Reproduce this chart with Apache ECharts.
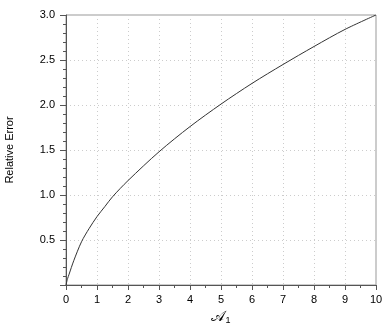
<!DOCTYPE html>
<html><head><meta charset="utf-8">
<script src="https://cdn.jsdelivr.net/npm/echarts@6/dist/echarts.min.js"></script>
<style>html,body{margin:0;padding:0;background:#fff}#c{width:390px;height:327px}</style>
</head><body><div id="c"></div>
<script>
const xValues = [0, 0.05, 0.1, 0.25, 0.5, 0.75, 1, 1.25, 1.5, 2, 3, 4, 5, 6, 7, 8, 9, 10];
const yValues = [0, 0.07, 0.12, 0.27, 0.48, 0.63, 0.76, 0.87, 0.98, 1.16, 1.48, 1.76, 2.01, 2.24, 2.45, 2.65, 2.84, 3.0];
const xTitle = '𝒜';
const xSub = '1';
const yTitle = 'Relative Error';

const chart = echarts.init(document.getElementById('c'), null, {renderer: 'canvas'});
const font = 'Liberation Sans, Arial, Helvetica, sans-serif';
chart.setOption({
  animation: false,
  backgroundColor: '#fff',
  grid: {left: 66, right: 14, top: 15, bottom: 42, show: true, borderColor: '#999', borderWidth: 1,
         containLabel: false, outerBoundsMode: 'none'},
  xAxis: {
    type: 'value', min: 0, max: 10, interval: 1,
    name: '{a|' + xTitle + '}{s|' + xSub + '}', nameLocation: 'middle', nameGap: 17,
    nameTextStyle: {
      rich: {
        a: {fontSize: 15, fontFamily: 'DejaVu Sans, Noto Sans, serif', color: '#000'},
        s: {fontSize: 9, fontFamily: font, color: '#000', verticalAlign: 'bottom', padding: [6, 0, 0, 0]}
      }
    },
    axisLine: {lineStyle: {color: '#555', width: 1}},
    axisTick: {length: 5, lineStyle: {color: '#555'}},
    minorTick: {show: true, splitNumber: 2, length: 3, lineStyle: {color: '#555'}},
    axisLabel: {color: '#000', fontSize: 11, fontFamily: font, margin: 9},
    splitLine: {show: true, lineStyle: {color: '#ccc', type: [1, 3], width: 1}}
  },
  yAxis: {
    type: 'value', min: 0, max: 3, interval: 0.5,
    name: yTitle, nameLocation: 'middle', nameGap: 51,
    nameTextStyle: {color: '#000', fontSize: 11, fontFamily: font},
    axisLine: {show: true, lineStyle: {color: '#555', width: 1}},
    axisTick: {show: true, length: 6, lineStyle: {color: '#555'}},
    minorTick: {show: true, splitNumber: 5, length: 3, lineStyle: {color: '#555'}},
    axisLabel: {color: '#000', fontSize: 11, fontFamily: font, margin: 11,
      formatter: v => v === 0 ? '' : v.toFixed(1)},
    splitLine: {show: true, lineStyle: {color: '#ccc', type: [1, 3], width: 1}}
  },
  series: [{
    type: 'line', smooth: 0.3, showSymbol: false,
    data: xValues.map((x, i) => [x, yValues[i]]),
    lineStyle: {color: '#333', width: 1}
  }]
});
</script></body></html>
